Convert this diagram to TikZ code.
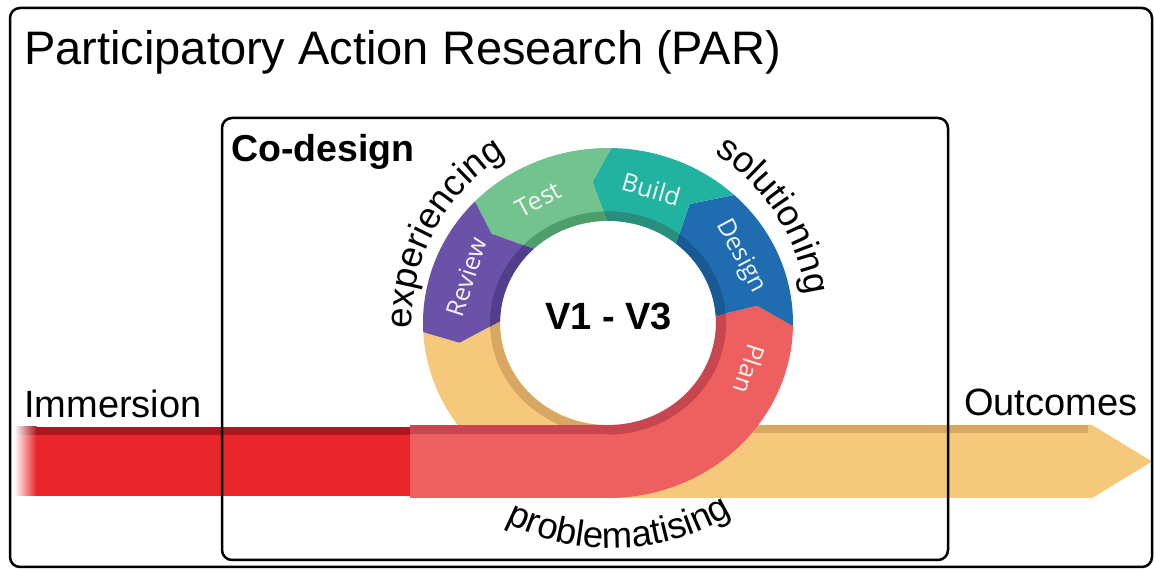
\documentclass[tikz,border=0pt]{standalone}
\usepackage{fontspec}
\setmainfont{Liberation Sans}
\newfontfamily\segfont{Open Sans}
\usetikzlibrary{decorations.text}

\definecolor{ylw}{HTML}{F6C87C}
\definecolor{ylwdk}{HTML}{D8A862}
\definecolor{plan}{HTML}{EE5F5F}
\definecolor{plandk}{HTML}{C8464F}
\definecolor{design}{HTML}{1F6DB0}
\definecolor{designdk}{HTML}{195A94}
\definecolor{build}{HTML}{22B2A0}
\definecolor{builddk}{HTML}{2A8E7E}
\definecolor{test}{HTML}{72C38E}
\definecolor{testdk}{HTML}{4E9E6C}
\definecolor{review}{HTML}{6A52A8}
\definecolor{reviewdk}{HTML}{523E8C}
\definecolor{redbar}{HTML}{E8262B}
\definecolor{redbardk}{HTML}{B0141E}

% one band of the cycle: fill, inner shade, then six boundary angles
% (outer, tip, inner) of the trailing edge and of the leading edge
\newcommand\segshape[6]{(#1:185) arc[start angle=#1, end angle=#4, radius=185]
  -- (#5:150) -- (#6:108) arc[start angle=#6, end angle=#3, radius=108]
  -- (#2:150) -- cycle}
\newcommand\ringseg[8]{%
  \fill[#1] \segshape{#3}{#4}{#5}{#6}{#7}{#8};
  \begin{scope}
    \clip \segshape{#3}{#4}{#5}{#6}{#7}{#8};
    \fill[#2, even odd rule] (0,0) circle[radius=118] (0,0) circle[radius=108];
  \end{scope}}

\tikzset{
  frame/.style={draw=black, line width=2.5pt, rounded corners=10pt},
  plain/.style={anchor=base west, inner sep=0pt, font=\fontsize{38}{40}\selectfont},
  seglabel/.style={text=white, opacity=0.92, inner sep=0pt,
    font=\segfont\fontsize{25}{27}\selectfont},
}
\newcommand\curvfont{\fontsize{36.5}{38}\selectfont}

\begin{document}
\begin{tikzpicture}[x=1pt, y=1pt]
\useasboundingbox (0,0) rectangle (1154,570);
\coordinate (c) at (608,247);

% yellow path: left arc of the loop and the arrow out to the right
\begin{scope}[shift={(c)}, yscale=0.946]
  \ringseg{ylw}{ylwdk}{183}{188}{179}{270}{270}{270}
\end{scope}
\fill[ylw] (600,72) -- (1092,72) -- (1152,108.5) -- (1092,145) -- (600,145) -- cycle;
\fill[ylwdk] (600,137) rectangle (1088,145);

% red incoming bar with soft left end
\fill[redbar] (36,74) rectangle (412,143);
\fill[redbardk] (36,135) rectangle (412,143);
\shade[left color=white, right color=redbar] (14,74) rectangle (36.5,135);
\shade[left color=white, right color=redbardk] (14,135) rectangle (36.5,143);

% salmon stretch entering the loop
\fill[plan] (410,72) rectangle (608.5,145);
\fill[plandk] (410,135.5) rectangle (608.5,145);

% the cycle bands
\begin{scope}[shift={(c)}, yscale=0.946]
  \ringseg{plan}{plandk}{-90}{-90}{-90}{-1}{7}{4}
  \ringseg{design}{designdk}{-1}{7}{4}{47}{57}{51}
  \ringseg{build}{builddk}{47}{57}{51}{89}{96}{90.5}
  \ringseg{test}{testdk}{89}{96}{90.5}{136}{141}{133.5}
  \ringseg{review}{reviewdk}{136}{141}{133.5}{183}{188}{179}
  \node[seglabel, rotate=72]   (lrev)  at (161:150) {Review};
  \node[seglabel, rotate=28]   (ltest) at (118:148) {Test};
  \node[seglabel, rotate=-16]  (lbld)  at (73:148) {Build};
  \node[seglabel, rotate=-62]  (ldes)  at (28:150) {Design};
  \node[seglabel, rotate=-108] (lplan) at (-19:150) {Plan};
\end{scope}

% curved captions round the loop
\path[decorate, decoration={text along path, text align=center,
    text={|\curvfont|experiencing}}]
  (c) ++(200:196) arc[start angle=200, end angle=103, radius=196];
\path[decorate, decoration={text along path, text align=center,
    text={|\curvfont|solutioning}}]
  (c) ++(82:200) arc[start angle=82, end angle=-16, radius=200];
\path[decorate, decoration={text along path, text align=center,
    text={|\curvfont|problematising}}]
  (612,254) ++(222:232) arc[start angle=222, end angle=322, radius=232];

\node[font=\bfseries\fontsize{38}{40}\selectfont, anchor=base, inner sep=0pt]
  (ver) at (608.5,240) {V1 - V3};

% frames and headings
\draw[frame] (10,3) rectangle (1152,562);
\draw[frame] (222,10) rectangle (948,452);
\node[plain, font=\fontsize{47}{50}\selectfont] (title) at (24,505)
  {Participatory Action Research (PAR)};
\node[plain, font=\bfseries\fontsize{37.5}{40}\selectfont] (codes) at (231,408) {Co-design};
\node[plain] (imm) at (24,152) {Immersion};
\node[plain] (out) at (964,154) {Outcomes};
\end{tikzpicture}
\end{document}
